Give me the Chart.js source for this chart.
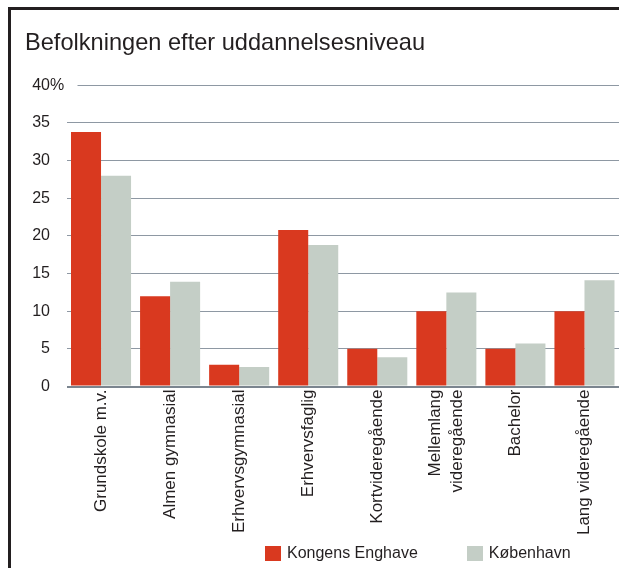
<!DOCTYPE html>
<html lang="da">
<head>
<meta charset="utf-8">
<title>Befolkningen efter uddannelsesniveau</title>
<script src="https://cdn.jsdelivr.net/npm/chart.js@4.4.1/dist/chart.umd.min.js"></script>
<style>
  html, body { margin: 0; padding: 0; background: #fff; overflow: hidden; }
  #frame {
    position: absolute; left: 8px; top: 7px; width: 700px; height: 700px;
    border-left: 3px solid #231f20; border-top: 3px solid #231f20;
  }
  #chart { position: absolute; left: 0; top: 0; width: 619px; height: 568px; }
  #legend {
    position: absolute; left: 265px; top: 545.5px; margin: 0; padding: 0;
    list-style: none; display: flex; gap: 49px;
    font: 16px "Liberation Sans", Arial, Helvetica, sans-serif; color: #231f20;
  }
  #legend li { display: flex; align-items: center; height: 15px; white-space: nowrap; }
  #legend span.box { display: inline-block; width: 16px; height: 15px; margin-right: 6px; }
</style>
</head>
<body>
<div id="frame"></div>
<canvas id="chart" width="619" height="568"></canvas>
<ul id="legend"></ul>
<script>
// data
const categories = [
  'Grundskole m.v.',
  'Almen gymnasial',
  'Erhvervsgymnasial',
  'Erhvervsfaglig',
  'Kortvideregående',
  ['Mellemlang', 'videregående'],
  'Bachelor',
  'Lang videregående',
]
const seriesNames = ['Kongens Enghave', 'København']
const kongensEnghave = [33.8, 12.0, 2.9, 20.8, 5.0, 10.0, 5.0, 10.0]
const koebenhavn = [28.0, 13.9, 2.6, 18.8, 3.9, 12.5, 5.7, 14.1]
const yMax = 40
const yStep = 5

const fontFamily = '"Liberation Sans", Arial, Helvetica, sans-serif'
const textColor = '#231f20'
const xFont = { family: fontFamily, size: 17, lineHeight: 1.25 }

// the top tick reads "40%", the others only the number
const percentSign = {
  id: 'percentSign',
  afterDraw(chart) {
    const { ctx, chartArea } = chart
    const y = chart.scales.y
    const top = y.getPixelForValue(yMax)
    ctx.save()
    ctx.fillStyle = '#fff'
    ctx.fillRect(chartArea.left - 1, top - 2, 12, 4)
    ctx.font = '16px ' + fontFamily
    ctx.fillStyle = textColor
    ctx.textAlign = 'left'
    ctx.textBaseline = 'middle'
    ctx.fillText('%', y.right - 16.5, top)
    ctx.restore()
  },
}

// two line labels are centred on their tick, not started at it
const centerMultiline = {
  id: 'centerMultiline',
  beforeDraw(chart) {
    const x = chart.scales.x
    const items = x.getLabelItems(chart.chartArea)
    const lineHeight = xFont.size * xFont.lineHeight
    items.forEach((item) => {
      if (Array.isArray(item.label) && !item._centred) {
        item.options.translation[0] -= ((item.label.length - 1) * lineHeight) / 2
        item._centred = true
      }
    })
  },
}

// legend as a html list, built from the datasets
const htmlLegend = {
  id: 'htmlLegend',
  afterUpdate(chart) {
    const list = document.getElementById('legend')
    if (!list) return
    list.innerHTML = ''
    const items = chart.options.plugins.legend.labels.generateLabels(chart)
    items.forEach((item) => {
      const li = document.createElement('li')
      const box = document.createElement('span')
      box.className = 'box'
      box.style.background = item.fillStyle
      li.appendChild(box)
      li.appendChild(document.createTextNode(item.text))
      list.appendChild(li)
    })
  },
}

function initChart({ idElement }) {
  const element = document.getElementById(idElement)
  if (!element) return
  const ctx = element.getContext('2d')
  const myChart = new Chart(ctx, {
    type: 'bar',
    data: {
      labels: categories,
      datasets: [
        {
          label: seriesNames[0],
          data: kongensEnghave,
          backgroundColor: '#d9391f',
          borderWidth: 0,
        },
        {
          label: seriesNames[1],
          data: koebenhavn,
          backgroundColor: '#c4cec6',
          borderWidth: 0,
        },
      ],
    },
    options: {
      responsive: false,
      animation: false,
      devicePixelRatio: 1,
      categoryPercentage: 60 / 69,
      barPercentage: 1,
      layout: {
        padding: { left: 25, right: 0, top: 0, bottom: 0 },
      },
      plugins: {
        title: {
          display: true,
          text: 'Befolkningen efter uddannelsesniveau',
          align: 'start',
          color: textColor,
          font: { family: fontFamily, size: 23.6, weight: 'normal', lineHeight: 1.2 },
          padding: { top: 29, bottom: 28 },
        },
        legend: { display: false },
        tooltip: { enabled: false },
      },
      scales: {
        x: {
          grid: { display: false, drawTicks: false },
          border: { display: false },
          ticks: {
            autoSkip: false,
            maxRotation: 90,
            minRotation: 90,
            padding: 3,
            color: textColor,
            font: xFont,
          },
          afterFit(scale) {
            scale.height = 181.5
          },
        },
        y: {
          min: 0,
          max: yMax,
          grid: {
            drawTicks: false,
            color: (c) => (c.tick && c.tick.value === 0 ? '#7b858f' : '#8e98a3'),
            lineWidth: (c) => (c.tick && c.tick.value === 0 ? 2 : 1),
          },
          border: { display: false },
          ticks: {
            stepSize: yStep,
            padding: 16.5,
            color: textColor,
            font: { family: fontFamily, size: 16 },
          },
          afterFit(scale) {
            scale.width = 41.5
          },
        },
      },
    },
    plugins: [percentSign, centerMultiline, htmlLegend],
  })
  return myChart
}

// main
initChart({ idElement: 'chart' })
</script>
</body>
</html>
